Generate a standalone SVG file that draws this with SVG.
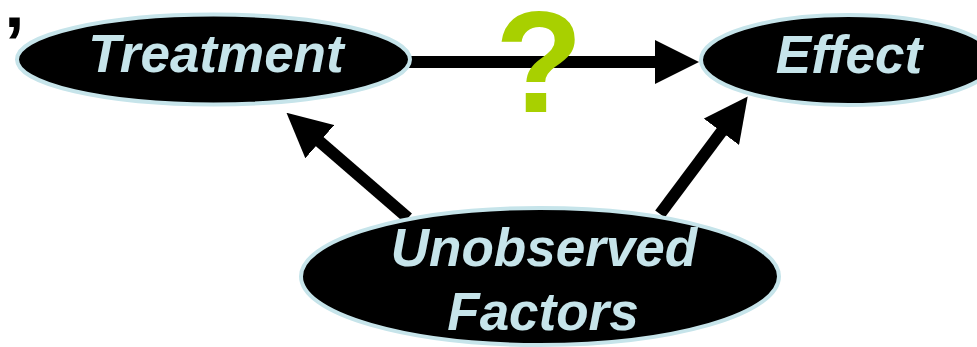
<svg xmlns="http://www.w3.org/2000/svg" width="977" height="347" viewBox="0 0 977 347">
  <defs>
    <marker id="head" viewBox="0 -22 44 44" refX="1" refY="0" markerWidth="44" markerHeight="44" markerUnits="userSpaceOnUse" orient="auto">
      <path d="M0,-22 L44,0 L0,22 Z" fill="#000"/>
    </marker>
    <style>
      .node { fill: #000; stroke: #c6e4ea; stroke-width: 4; }
      .label { font-family: "Liberation Sans", Arial, sans-serif; font-weight: bold; font-style: italic; font-size: 53px; fill: #c6e4ea; text-anchor: middle; }
      .edge { stroke: #000; stroke-width: 12; fill: none; marker-end: url(#head); }
    </style>
  </defs>
  <rect width="977" height="347" fill="#fff"/>

  <text x="4" y="69" font-family="Liberation Sans, Arial, sans-serif" font-weight="bold" font-size="75" fill="#000">’</text>

  <g id="connectors">
    <line class="edge" x1="408" y1="62" x2="656" y2="62"/>
    <line class="edge" x1="408" y1="218" x2="319" y2="141"/>
    <line class="edge" x1="660" y1="214" x2="722" y2="131"/>
  </g>

  <g id="treatment">
    <ellipse class="node" cx="213.5" cy="59.5" rx="196.5" ry="45"/>
    <text class="label" x="216" y="72">Treatment</text>
  </g>

  <g id="effect">
    <ellipse class="node" cx="848" cy="60" rx="147" ry="45"/>
    <text class="label" x="849" y="73">Effect</text>
  </g>

  <g id="unobserved">
    <ellipse class="node" cx="540" cy="276.5" rx="239" ry="68.5"/>
    <text class="label" x="544" y="266">Unobserved</text>
    <text class="label" x="543" y="330">Factors</text>
  </g>

  <text x="539" y="112" font-family="Liberation Sans, Arial, sans-serif" font-weight="bold" font-size="144" fill="#a8d000" text-anchor="middle">?</text>
</svg>
